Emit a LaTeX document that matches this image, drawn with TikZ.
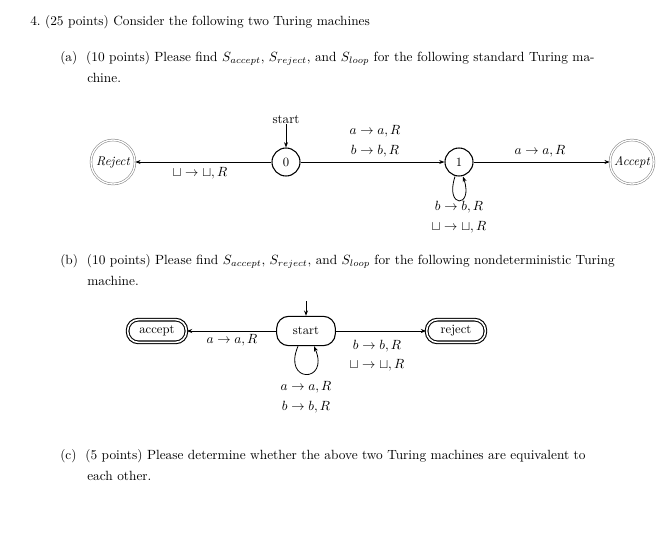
\documentclass[tikz,border=0pt]{standalone}
\usetikzlibrary{arrows.meta,calc}
\begin{document}
\begin{tikzpicture}[x=0.75pt,y=-0.75pt,
  txt/.style={anchor=west,inner sep=0pt,font=\fontsize{10}{11}\selectfont},
  lbl/.style={inner sep=0pt,font=\fontsize{9.8}{11}\selectfont},
  st/.style={circle,draw,thick,minimum size=21pt,inner sep=0pt,font=\fontsize{9.5}{11}\selectfont},
  fin/.style={circle,draw=gray,double=white,double distance=1pt,minimum size=33pt,inner sep=0pt,font=\fontsize{9.5}{11}\selectfont\itshape},
  rst/.style={rounded corners=9pt,draw,thick,minimum width=44pt,minimum height=22pt,inner sep=0pt,font=\fontsize{9.5}{11}\selectfont},
  rfin/.style={rounded corners=8pt,draw,double=white,double distance=1.2pt,thick,minimum width=44pt,minimum height=17pt,inner sep=0pt,font=\fontsize{9.5}{11}\selectfont},
  ar/.style={->,>={Stealth[length=4pt]},semithick}]
\useasboundingbox (0,0) rectangle (667,533);
\node[txt] (t0) at (30,22) {4.\ (25 points) Consider the following two Turing machines};
\node[txt] (ta) at (60,58) {(a)\ \ (10 points) Please find $S_{accept}$, $S_{reject}$, and $S_{loop}$ for the following standard Turing ma-};
\node[txt] (ta2) at (87,78) {chine.};
% (a)
\node[fin] (rej) at (113,162) {Reject};
\node[st] (q0) at (286,162) {0};
\node[st] (q1) at (459,162) {1};
\node[fin] (acc) at (632,162) {Accept};
\node[lbl] (s0) at (286,120) {start};
\draw[ar] (s0) -- (q0);
\draw[ar] (q0) -- (rej);
\draw[ar] (q0) -- (q1);
\draw[ar] (q1) -- (acc);
\draw[ar] ($(q1.south)+(-3pt,0)$) .. controls +(-8pt,-24pt) and +(8pt,-24pt) .. ($(q1.south)+(3pt,0)$);
\node[lbl] (la1) at (375,131) {$a\rightarrow a,R$};
\node[lbl] (la2) at (375,151) {$b\rightarrow b,R$};
\node[lbl] (la3) at (200,173) {$\sqcup\rightarrow\sqcup,R$};
\node[lbl] (la4) at (540,151) {$a\rightarrow a,R$};
\node[lbl] (la5) at (459,207) {$b\rightarrow b,R$};
\node[lbl] (la6) at (459,227) {$\sqcup\rightarrow\sqcup,R$};
% (b)
\node[txt] (tb) at (60,261) {(b)\ \ (10 points) Please find $S_{accept}$, $S_{reject}$, and $S_{loop}$ for the following nondeterministic Turing};
\node[txt] (tb2) at (87,281) {machine.};
\node[rfin] (bacc) at (157,331) {accept};
\node[rst] (bst) at (306,331) {start};
\node[rfin] (brej) at (456,331) {reject};
\coordinate (in) at (306,301);
\draw[ar] (in) -- (bst);
\draw[ar] (bst) -- (bacc);
\draw[ar] (bst) -- (brej);
\draw[ar] ($(bst.south)+(-6pt,0)$) .. controls +(-12pt,-28pt) and +(12pt,-28pt) .. ($(bst.south)+(6pt,0)$);
\node[lbl] (lb1) at (232,340) {$a\rightarrow a,R$};
\node[lbl] (lb2) at (377,346) {$b\rightarrow b,R$};
\node[lbl] (lb3) at (377,365) {$\sqcup\rightarrow\sqcup,R$};
\node[lbl] (lb4) at (306,387) {$a\rightarrow a,R$};
\node[lbl] (lb5) at (306,407) {$b\rightarrow b,R$};
% (c)
\node[txt] (tc) at (60,456) {(c)\ \ (5 points) Please determine whether the above two Turing machines are equivalent to};
\node[txt] (tc2) at (87,476) {each other.};
\end{tikzpicture}
\end{document}
